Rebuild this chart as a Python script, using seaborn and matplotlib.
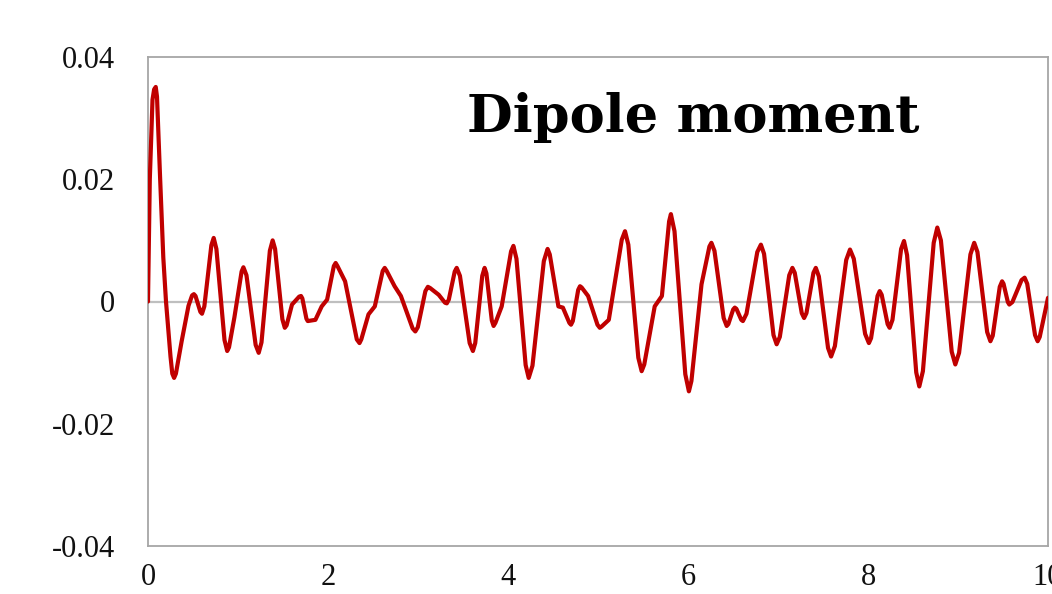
import matplotlib
matplotlib.use("Agg")
import matplotlib.pyplot as plt
import seaborn as sns
import pandas as pd

# Induced dipole moment vs. time: turning points and shoulders of the trace
time = [
    0.0, 0.02, 0.05, 0.086, 0.133, 0.17, 0.20, 0.29, 0.374, 0.45, 0.51, 0.60,
    0.73, 0.88, 0.96, 1.06, 1.23, 1.385, 1.52, 1.60, 1.70, 1.775, 1.86, 1.93,
    1.99, 2.085, 2.19, 2.35, 2.45, 2.52, 2.63, 2.74, 2.81, 2.97, 3.11, 3.23,
    3.32, 3.43, 3.61, 3.74, 3.84, 3.93, 4.06, 4.23, 4.44, 4.56, 4.61, 4.70,
    4.80, 4.89, 5.02, 5.12, 5.30, 5.485, 5.63, 5.71, 5.81, 6.01, 6.15, 6.26,
    6.43, 6.52, 6.61, 6.81, 6.985, 7.16, 7.29, 7.42, 7.59, 7.80, 8.01, 8.13,
    8.24, 8.40, 8.57, 8.77, 8.97, 9.18, 9.36, 9.49, 9.57, 9.74, 9.885, 10.0,
]
dipole = [
    0.0, 0.020, 0.033, 0.0351, 0.0208, 0.0072, 0.0, -0.0125, -0.0065, -0.0007,
    0.0012, -0.0020, 0.0104, -0.0081, -0.0026, 0.0056, -0.0084, 0.0100,
    -0.0043, -0.0005, 0.0009, -0.0032, -0.0030, -0.0008, 0.0003, 0.0063,
    0.0033, -0.0068, -0.0021, -0.0008, 0.0055, 0.0025, 0.0009, -0.0049,
    0.0024, 0.0011, -0.0003, 0.0055, -0.0081, 0.0055, -0.0040, -0.0008,
    0.0091, -0.0125, 0.0086, -0.0008, -0.0010, -0.0038, 0.0025, 0.0009,
    -0.0043, -0.0030, 0.0115, -0.0114, -0.0008, 0.0009, 0.0143, -0.0147,
    0.0028, 0.0096, -0.0040, -0.0010, -0.0032, 0.0093, -0.0070, 0.0055,
    -0.0027, 0.0055, -0.0090, 0.0085, -0.0068, 0.0017, -0.0043, 0.0099,
    -0.0139, 0.0121, -0.0103, 0.0096, -0.0065, 0.0033, -0.0005, 0.0039,
    -0.0065, 0.0006,
]

# Samples on the flanks of each peak and trough (rounded tops)
flank_time = [
    0.068, 0.10, 0.25, 0.27, 0.31, 0.49, 0.528, 0.582, 0.626, 0.704,
    0.76, 0.85, 0.90, 1.04, 1.094, 1.196, 1.261, 1.354, 1.412, 1.493,
    1.54, 1.68, 1.715, 1.76, 2.065, 2.105, 2.32, 2.37, 2.608, 2.652,
    2.94, 2.998, 3.082, 3.135, 3.30, 3.342, 3.408, 3.466, 3.574, 3.636,
    3.714, 3.76, 3.82, 3.86, 4.034, 4.094, 4.196, 4.272, 4.398, 4.464,
    4.682, 4.72, 4.78, 4.818, 4.994, 5.04, 5.264, 5.337, 5.448, 5.514,
    5.79, 5.85, 5.97, 6.038, 6.238, 6.294, 6.396, 6.448, 6.502, 6.538,
    6.592, 6.65, 6.77, 6.845, 6.95, 7.02, 7.125, 7.186, 7.264, 7.316,
    7.394, 7.454, 7.556, 7.632, 7.758, 7.842, 7.968, 8.034, 8.106, 8.152,
    8.218, 8.272, 8.368, 8.434, 8.536, 8.61, 8.73, 8.81, 8.93, 9.012,
    9.138, 9.216, 9.324, 9.386, 9.464, 9.506, 9.554, 9.604, 9.706, 9.769,
    9.856, 9.908,
]
flank_dipole = [
    0.0347, 0.0335, -0.0090, -0.0118, -0.0118, 0.0010, 0.0009, -0.0017, -0.0008, 0.0092,
    0.0086, -0.0063, -0.0075, 0.0049, 0.0043, -0.0071, -0.0067, 0.0083, 0.0086, -0.0029,
    -0.0039, 0.0008, 0.0005, -0.0028, 0.0058, 0.0058, -0.0062, -0.0062, 0.0050, 0.0050,
    -0.0044, -0.0042, 0.0017, 0.0022, -0.0002, 0.0003, 0.0049, 0.0042, -0.0068, -0.0068,
    0.0042, 0.0046, -0.0031, -0.0035, 0.0082, 0.0070, -0.0104, -0.0105, 0.0066, 0.0077,
    -0.0035, -0.0032, 0.0019, 0.0023, -0.0038, -0.0041, 0.0101, 0.0093, -0.0092, -0.0103,
    0.0131, 0.0115, -0.0119, -0.0130, 0.0090, 0.0083, -0.0027, -0.0037, -0.0013, -0.0012,
    -0.0030, -0.0020, 0.0081, 0.0078, -0.0055, -0.0058, 0.0043, 0.0047, -0.0019, -0.0019,
    0.0047, 0.0041, -0.0076, -0.0073, 0.0068, 0.0070, -0.0053, -0.0060, 0.0009, 0.0011,
    -0.0037, -0.0030, 0.0086, 0.0076, -0.0116, -0.0114, 0.0096, 0.0100, -0.0082, -0.0084,
    0.0077, 0.0081, -0.0050, -0.0056, 0.0024, 0.0029, -0.0001, -0.0001, 0.0035, 0.0029,
    -0.0055, -0.0058,
]

x_ticks = [0, 2, 4, 6, 8, 10]
x_tick_labels = ["0", "2", "4", "6", "8", "10"]
y_ticks = [-0.04, -0.02, 0.0, 0.02, 0.04]
y_tick_labels = ["-0.04", "-0.02", "0", "0.02", "0.04"]
title_text = "Dipole moment"

df = pd.concat([
    pd.DataFrame({"t": time, "mu": dipole}),
    pd.DataFrame({"t": flank_time, "mu": flank_dipole}),
]).sort_values("t").reset_index(drop=True)

sns.set_style("white")
plt.rcParams["font.family"] = ["Liberation Serif", "DejaVu Serif"]

fig = plt.figure(figsize=(10.52, 5.94), dpi=100)
ax = fig.add_axes([148 / 1052, 1 - 546 / 594, 900 / 1052, 489 / 594])

ax.axhline(0, color="#BFBFBF", lw=1.6, zorder=1)
sns.lineplot(data=df, x="t", y="mu", ax=ax, color="#C00000", lw=3.0,
             sort=True, estimator=None, zorder=3)
for line in ax.lines:
    line.set_solid_joinstyle("round")
    line.set_solid_capstyle("round")

ax.set_xlim(0, 10)
ax.set_ylim(-0.04, 0.04)
ax.set_xticks(x_ticks)
ax.set_xticklabels(x_tick_labels)
ax.set_yticks(y_ticks)
ax.set_yticklabels(y_tick_labels)
ax.set_xlabel("")
ax.set_ylabel("")
ax.tick_params(axis="both", length=0, labelsize=22, colors="#111111")
ax.tick_params(axis="y", pad=24)
ax.tick_params(axis="x", pad=12)

for side in ["left", "right", "top", "bottom"]:
    ax.spines[side].set_visible(True)
    ax.spines[side].set_color("#A6A6A6")
    ax.spines[side].set_linewidth(1.3)

ax.text(0.606, 0.847, title_text, transform=ax.transAxes, ha="center",
        va="baseline", fontsize=38, fontweight="bold",
        family=["DejaVu Serif"], color="#000000")

fig.savefig("out.png", dpi=100)
